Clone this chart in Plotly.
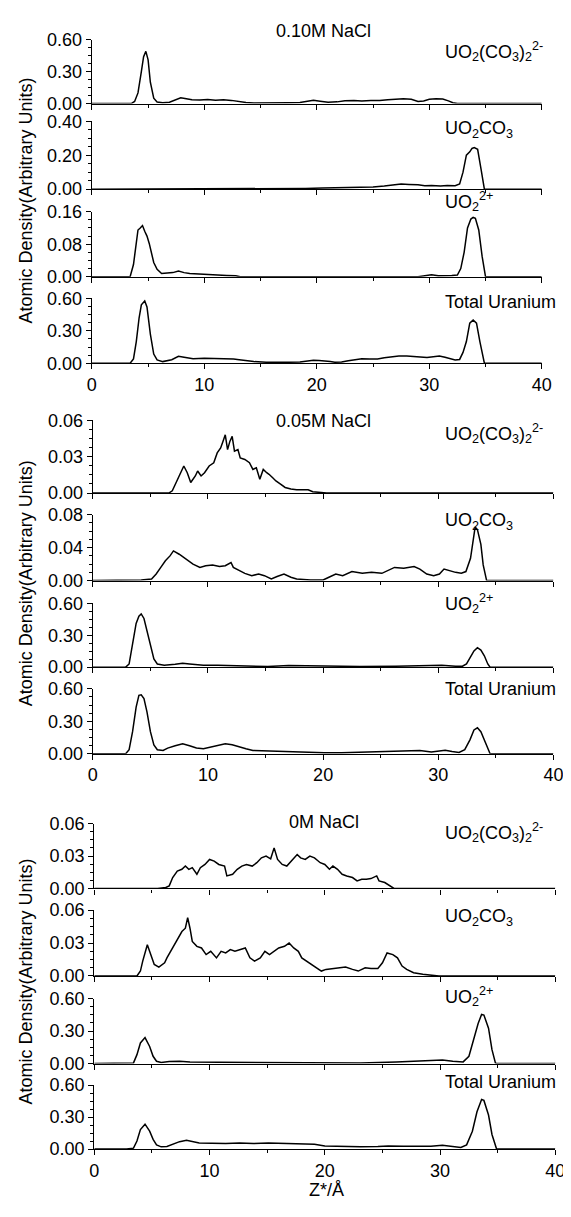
import plotly.graph_objects as go

# density profiles, Z*/A vs atomic density (arbitrary units)
# ---- 0.10M NaCl ----
z_dic_010 = [0, 3.5, 3.8, 4.1, 4.4, 4.6, 4.8, 5.0, 5.2, 5.5, 5.8, 6.3, 6.9, 7.4, 7.9, 8.4, 8.9, 9.6, 10.3, 11.0,
             11.7, 12.4, 13.0, 13.7, 14.4, 15.5, 16.5, 17.5, 18.5, 19.2, 19.7, 20.3, 21.0, 21.8, 22.5, 23.3, 24.0,
             24.8, 25.6, 26.3, 27.0, 27.7, 28.4, 29.0, 29.5, 30.0, 30.6, 31.2, 31.7, 32.1, 32.5, 40]
d_dic_010 = [0, 0, 0.02, 0.1, 0.3, 0.44, 0.49, 0.41, 0.2, 0.05, 0.015, 0.008, 0.012, 0.035, 0.055, 0.045, 0.035,
             0.033, 0.038, 0.032, 0.036, 0.03, 0.02, 0.01, 0.006, 0.005, 0.006, 0.008, 0.01, 0.022, 0.03, 0.022,
             0.012, 0.016, 0.026, 0.03, 0.024, 0.03, 0.028, 0.036, 0.044, 0.046, 0.04, 0.02, 0.025, 0.04, 0.046,
             0.042, 0.025, 0.008, 0, 0]
z_mono_010 = [0, 15.0, 17.0, 19.0, 20.5, 22.0, 23.0, 24.0, 25.0, 26.0, 26.8, 27.5, 28.2, 29.0, 29.6, 30.2, 31.0,
              31.6, 32.3, 32.7, 33.0, 33.3, 33.6, 33.8, 34.0, 34.3, 34.6, 34.9, 40]
d_mono_010 = [0, 0, 0.003, 0.004, 0.006, 0.008, 0.01, 0.014, 0.012, 0.018, 0.024, 0.03, 0.028, 0.026, 0.02, 0.022,
              0.018, 0.022, 0.02, 0.03, 0.1, 0.2, 0.22, 0.24, 0.245, 0.235, 0.12, 0, 0]
z_uo2_010 = [0, 3.4, 3.7, 3.9, 4.1, 4.3, 4.5, 4.7, 4.9, 5.1, 5.3, 5.5, 5.8, 6.2, 6.7, 7.2, 7.7, 8.2, 8.7, 9.3, 9.9,
             10.5, 11.2, 12.0, 12.8, 13.2, 29.0, 29.7, 30.2, 30.8, 31.4, 32.0, 32.5, 32.8, 33.1, 33.4, 33.7, 33.9,
             34.1, 34.4, 34.7, 35.0, 40]
d_uo2_010 = [0, 0, 0.03, 0.08, 0.115, 0.12, 0.126, 0.112, 0.1, 0.082, 0.06, 0.035, 0.018, 0.008, 0.009, 0.01,
             0.014, 0.01, 0.008, 0.007, 0.006, 0.004, 0.003, 0.003, 0.002, 0, 0, 0.003, 0.005, 0.002, 0.002, 0.003,
             0.004, 0.02, 0.06, 0.12, 0.142, 0.146, 0.144, 0.115, 0.05, 0, 0]
z_tot_010 = [0, 3.4, 3.7, 3.95, 4.2, 4.4, 4.7, 4.9, 5.2, 5.5, 5.8, 6.3, 7.1, 7.7, 8.2, 9.0, 10.0, 11.0, 12.0, 12.6,
             13.1, 13.8, 14.4, 15.5, 16.5, 17.5, 18.5, 19.2, 19.7, 20.2, 20.7, 21.2, 21.6, 22.2, 22.8, 23.4, 24.0,
             24.7, 25.4, 26.0, 26.6, 27.3, 28.0, 28.6, 29.2, 29.8, 30.4, 30.9, 31.4, 31.9, 32.3, 32.7, 33.0, 33.3,
             33.6, 33.9, 34.2, 34.5, 34.9, 40]
d_tot_010 = [0, 0, 0.04, 0.2, 0.42, 0.54, 0.576, 0.52, 0.27, 0.085, 0.03, 0.015, 0.033, 0.064, 0.055, 0.042, 0.045,
             0.044, 0.046, 0.04, 0.033, 0.02, 0.015, 0.01, 0.008, 0.009, 0.012, 0.022, 0.027, 0.026, 0.024, 0.015,
             0.009, 0.012, 0.022, 0.035, 0.042, 0.04, 0.04, 0.05, 0.058, 0.067, 0.066, 0.064, 0.058, 0.052, 0.06,
             0.067, 0.055, 0.04, 0.03, 0.035, 0.1, 0.2, 0.37, 0.4, 0.37, 0.2, 0, 0]

# ---- 0.05M NaCl ----
z_dic_005 = [0, 6.6, 6.9, 7.3, 7.6, 7.9, 8.2, 8.5, 8.9, 9.1, 9.4, 9.7, 10.1, 10.5, 10.8, 11.1, 11.3, 11.5, 11.7,
             11.9, 12.1, 12.3, 12.6, 12.8, 13.2, 13.6, 13.9, 14.2, 14.5, 14.8, 15.1, 15.3, 15.6, 15.9, 16.3, 16.7,
             17.2, 17.7, 18.3, 18.7, 19.1, 19.7, 20.3, 40]
d_dic_005 = [0, 0, 0.0019, 0.010, 0.0155, 0.0223, 0.0168, 0.0087, 0.0141, 0.0182, 0.0141, 0.0168, 0.0223, 0.025,
             0.0331, 0.0372, 0.0426, 0.048, 0.0358, 0.0426, 0.0467, 0.0345, 0.0358, 0.029, 0.0277, 0.025, 0.0195,
             0.0209, 0.0114, 0.0195, 0.0168, 0.0155, 0.0128, 0.010, 0.0073, 0.0046, 0.0033, 0.0027, 0.0027, 0.0027,
             0.0011, 0.0005, 0, 0]
z_mono_005 = [0, 4.2, 5.1, 5.5, 5.9, 6.3, 6.7, 7.0, 7.5, 7.9, 8.3, 8.7, 9.3, 9.8, 10.4, 11.0, 11.5, 12.0, 12.2,
              12.7, 13.2, 13.8, 14.4, 14.9, 15.5, 16.0, 16.6, 17.2, 17.7, 18.9, 20.0, 20.5, 21.1, 21.7, 22.5, 23.4,
              24.2, 25.1, 25.6, 26.2, 27.0, 27.9, 28.4, 29.0, 29.6, 30.1, 30.5, 31.0, 31.5, 32.0, 32.4, 32.8, 33.0,
              33.2, 33.4, 33.7, 33.9, 34.2, 40]
d_mono_005 = [0, 0.0008, 0.002, 0.008, 0.016, 0.024, 0.030, 0.036, 0.032, 0.028, 0.024, 0.020, 0.016, 0.018,
              0.019, 0.017, 0.018, 0.022, 0.016, 0.012, 0.0088, 0.006, 0.008, 0.006, 0.002, 0.005, 0.008, 0.004,
              0.002, 0.0008, 0.0008, 0.004, 0.008, 0.006, 0.011, 0.0088, 0.010, 0.0088, 0.012, 0.016, 0.015, 0.017,
              0.014, 0.008, 0.006, 0.008, 0.014, 0.012, 0.010, 0.009, 0.011, 0.027, 0.048, 0.065, 0.062, 0.044,
              0.019, 0, 0]
z_uo2_005 = [0, 2.85, 3.15, 3.45, 3.76, 4.0, 4.2, 4.44, 4.7, 5.0, 5.3, 5.6, 6.2, 7.15, 7.8, 8.4, 9.6, 10.85, 12.1,
             13.3, 15.2, 17.0, 18.6, 20.1, 23.2, 26.3, 28.4, 30.3, 31.5, 32.1, 32.45, 32.75, 33.1, 33.4, 33.7, 34.0,
             34.3, 34.5, 40]
d_uo2_005 = [0, 0, 0.03, 0.2, 0.41, 0.478, 0.5, 0.457, 0.35, 0.2, 0.076, 0.03, 0.018, 0.027, 0.037, 0.03, 0.018,
             0.018, 0.015, 0.009, 0.006, 0.015, 0.012, 0.006, 0.006, 0.009, 0.015, 0.018, 0.009, 0.009, 0.03, 0.09,
             0.152, 0.183, 0.16, 0.107, 0.03, 0, 0]
z_tot_005 = [0, 2.85, 3.15, 3.45, 3.76, 4.0, 4.2, 4.44, 4.7, 5.0, 5.3, 5.6, 6.1, 6.5, 7.15, 7.8, 8.4, 9.0, 9.6,
             10.2, 10.85, 11.5, 12.1, 12.7, 13.3, 13.9, 15.5, 17.0, 18.6, 20.1, 21.6, 23.2, 24.7, 26.3, 27.5, 28.4,
             29.4, 30.2, 30.6, 31.2, 31.8, 32.3, 32.75, 33.1, 33.4, 33.7, 34.0, 34.3, 34.5, 40]
d_tot_005 = [0, 0, 0.037, 0.204, 0.43, 0.54, 0.545, 0.51, 0.387, 0.204, 0.082, 0.037, 0.03, 0.052, 0.073, 0.091,
             0.073, 0.052, 0.046, 0.061, 0.076, 0.091, 0.082, 0.061, 0.046, 0.03, 0.024, 0.021, 0.018, 0.009, 0.009,
             0.015, 0.018, 0.021, 0.027, 0.03, 0.015, 0.027, 0.033, 0.021, 0.012, 0.037, 0.128, 0.22, 0.24, 0.204,
             0.128, 0.037, 0, 0]

# ---- 0M NaCl ----
z_dic_000 = [0, 5.5, 6.2, 6.5, 6.8, 7.2, 7.6, 7.9, 8.2, 8.5, 8.9, 9.2, 9.6, 10.0, 10.4, 10.8, 11.3, 11.5, 12.0,
             12.4, 12.8, 13.2, 13.7, 14.1, 14.5, 14.9, 15.3, 15.6, 15.9, 16.3, 16.7, 17.2, 17.6, 17.9, 18.3, 18.7,
             19.1, 19.6, 20.0, 20.4, 20.7, 21.1, 21.5, 21.9, 22.4, 22.8, 23.2, 23.6, 24.0, 24.5, 24.7, 25.2, 25.6,
             26.0, 40]
d_dic_000 = [0, 0, 0.0009, 0.0024, 0.0101, 0.0161, 0.0177, 0.0207, 0.0177, 0.0192, 0.0131, 0.0192, 0.0222, 0.0268,
             0.0253, 0.0222, 0.0207, 0.0116, 0.0131, 0.0177, 0.0207, 0.0222, 0.0207, 0.0238, 0.0283, 0.0299, 0.0274,
             0.0375, 0.0268, 0.0222, 0.0207, 0.0268, 0.0314, 0.0283, 0.0268, 0.0299, 0.0283, 0.0238, 0.0222, 0.0177,
             0.0207, 0.0177, 0.0131, 0.0116, 0.0101, 0.007, 0.0085, 0.0085, 0.0091, 0.0116, 0.007, 0.0055, 0.0024,
             0, 0]
z_mono_000 = [0, 3.7, 4.0, 4.2, 4.6, 4.9, 5.2, 5.6, 6.1, 6.3, 6.8, 7.2, 7.6, 7.9, 8.1, 8.3, 8.5, 8.9, 9.3, 9.7,
              10.1, 10.6, 11.0, 11.4, 11.8, 12.2, 12.7, 13.1, 13.5, 13.9, 14.4, 14.8, 15.2, 15.6, 16.0, 16.5, 16.9,
              17.3, 17.7, 18.0, 18.4, 18.8, 19.3, 19.7, 20.1, 20.7, 21.2, 21.8, 22.4, 22.9, 23.5, 24.0, 24.6, 25.0,
              25.4, 25.9, 26.3, 26.7, 27.1, 27.7, 28.5, 29.4, 29.9, 40]
d_mono_000 = [0, 0, 0.0045, 0.0135, 0.0285, 0.0195, 0.0105, 0.0081, 0.012, 0.0165, 0.0255, 0.033, 0.0405, 0.0435,
              0.0531, 0.0435, 0.0315, 0.027, 0.0255, 0.0195, 0.0225, 0.0165, 0.0225, 0.021, 0.024, 0.0225, 0.024,
              0.0255, 0.0165, 0.0135, 0.0165, 0.0225, 0.0195, 0.0225, 0.0255, 0.027, 0.03, 0.0255, 0.0225, 0.0165,
              0.0135, 0.0105, 0.0075, 0.0045, 0.006, 0.0069, 0.0075, 0.0081, 0.006, 0.0045, 0.0075, 0.0069, 0.0069,
              0.012, 0.021, 0.0195, 0.0165, 0.009, 0.006, 0.003, 0.0015, 0.0006, 0, 0]
z_uo2_000 = [0, 2.8, 3.4, 3.7, 4.0, 4.4, 4.8, 5.1, 5.4, 5.8, 6.5, 7.4, 8.3, 10.8, 13.8, 16.9, 20.0, 23.1, 26.2,
             29.2, 30.2, 31.1, 32.0, 32.5, 32.9, 33.3, 33.6, 33.8, 34.2, 34.5, 34.8, 34.9, 40]
d_uo2_000 = [0, 0, 0.006, 0.082, 0.19, 0.24, 0.158, 0.067, 0.021, 0.009, 0.018, 0.021, 0.015, 0.012, 0.012, 0.009,
             0.006, 0.006, 0.015, 0.024, 0.033, 0.021, 0.015, 0.067, 0.22, 0.37, 0.454, 0.448, 0.326, 0.128, 0.006,
             0, 0]
z_tot_000 = [0, 2.8, 3.4, 3.7, 4.0, 4.4, 4.8, 5.1, 5.4, 5.8, 6.3, 6.8, 7.4, 8.0, 8.5, 9.1, 10.2, 11.4, 12.6, 13.8,
             15.1, 16.3, 17.8, 19.1, 20.0, 21.5, 23.1, 24.6, 25.5, 26.8, 28.0, 29.2, 30.2, 31.1, 31.8, 32.3, 32.8,
             33.2, 33.6, 33.8, 34.2, 34.5, 34.8, 34.9, 40]
d_tot_000 = [0, 0, 0.009, 0.076, 0.183, 0.234, 0.168, 0.091, 0.04, 0.021, 0.024, 0.046, 0.07, 0.082, 0.07, 0.058,
             0.055, 0.052, 0.058, 0.052, 0.058, 0.055, 0.055, 0.046, 0.03, 0.024, 0.021, 0.024, 0.03, 0.027, 0.024,
             0.027, 0.037, 0.027, 0.015, 0.04, 0.168, 0.35, 0.466, 0.457, 0.32, 0.137, 0.015, 0, 0]

conc_labels = ["0.10M NaCl", "0.05M NaCl", "0M NaCl"]
species_labels = ["UO<sub>2</sub>(CO<sub>3</sub>)<sub>2</sub><sup>2-</sup>",
                  "UO<sub>2</sub>CO<sub>3</sub>",
                  "UO<sub>2</sub><sup>2+</sup>",
                  "Total Uranium"]
y_tops = [[0.60, 0.40, 0.16, 0.60],
          [0.06, 0.08, 0.60, 0.60],
          [0.06, 0.06, 0.60, 0.60]]
profiles = [[(z_dic_010, d_dic_010), (z_mono_010, d_mono_010), (z_uo2_010, d_uo2_010), (z_tot_010, d_tot_010)],
            [(z_dic_005, d_dic_005), (z_mono_005, d_mono_005), (z_uo2_005, d_uo2_005), (z_tot_005, d_tot_005)],
            [(z_dic_000, d_dic_000), (z_mono_000, d_mono_000), (z_uo2_000, d_uo2_000), (z_tot_000, d_tot_000)]]

# page geometry in pixels; the page body puts the figure 8px in from the corner,
# so positions are given in window pixels and shifted back by OFF
W, H = 571, 1217
OFF = 8
FONT = "Liberation Sans, Arial, sans-serif"
group_x = [(89, 551), (90, 563), (91.5, 565)]
panel_y = [[(30, 95), (113, 182), (205, 271), (293, 359)],
           [(417, 491), (513, 580), (603, 668), (690, 756)],
           [(827, 893), (915, 982), (1005, 1071), (1093, 1158)]]
title_y = [21, 418, 825]
species_y = [[42, 121, 195, 297], [430, 520, 603, 690], [836, 923, 1003, 1090]]
ytitle_y = [194, 583, 988]


def px(x):
    return min(1.0, max(0.0, (x - OFF) / W))


def py(y):
    return min(1.0, max(0.0, 1 - (y - OFF) / H))


fig = go.Figure()
layout = {}
annotations = []
n = 0
for g in range(3):
    for p in range(4):
        n += 1
        z, d = profiles[g][p]
        fig.add_trace(go.Scatter(x=z, y=d, mode="lines", xaxis="x%d" % n, yaxis="y%d" % n,
                                 line=dict(color="black", width=1.5), showlegend=False,
                                 hoverinfo="skip"))
        top = y_tops[g][p]
        x0, x1 = group_x[g]
        ytop, ybot = panel_y[g][p]
        xname = "xaxis" if n == 1 else "xaxis%d" % n
        yname = "yaxis" if n == 1 else "yaxis%d" % n
        layout[xname] = dict(domain=[px(x0), px(x1)], anchor="y%d" % n, range=[0, 40],
                             showline=True, linecolor="black", linewidth=1.3, mirror=False,
                             ticks="outside", ticklen=5, tickwidth=1.3, tickcolor="black",
                             tickmode="linear", tick0=0, dtick=10, ticklabeloverflow="allow",
                             minor=dict(ticks="outside", ticklen=3, tickwidth=1.1, tickcolor="black", dtick=5),
                             showticklabels=(p == 3), tickfont=dict(family=FONT, size=18, color="black"),
                             showgrid=False, zeroline=False, fixedrange=True)
        layout[yname] = dict(domain=[py(ybot), py(ytop)], anchor="x%d" % n, range=[0, top],
                             showline=True, linecolor="black", linewidth=1.3,
                             ticks="outside", ticklen=5, tickwidth=1.3, tickcolor="black",
                             tickmode="array", tickvals=[0, top / 2, top], tickformat=".2f",
                             minor=dict(ticks="outside", ticklen=3, tickwidth=1.1, tickcolor="black",
                                        tick0=0, dtick=top / 8),
                             tickfont=dict(family=FONT, size=18, color="black"),
                             showgrid=False, zeroline=False, fixedrange=True)
        annotations.append(dict(text=species_labels[p], x=px(450), y=py(species_y[g][p]),
                                xref="paper", yref="paper", xanchor="left", yanchor="middle",
                                showarrow=False, font=dict(family=FONT, size=18, color="black")))
    annotations.append(dict(text=conc_labels[g], x=px(327), y=py(title_y[g]), xref="paper", yref="paper",
                            xanchor="center", yanchor="middle", showarrow=False,
                            font=dict(family=FONT, size=18, color="black")))
    annotations.append(dict(text="Atomic Density(Arbitrary Units)", x=px(21), y=py(ytitle_y[g]),
                            xref="paper", yref="paper", xanchor="center", yanchor="middle",
                            textangle=-90, showarrow=False, font=dict(family=FONT, size=18, color="black")))

annotations.append(dict(text="Z*/Å", x=px(330), y=py(1200), xref="paper", yref="paper",
                        xanchor="center", yanchor="middle", showarrow=False,
                        font=dict(family=FONT, size=18, color="black")))

fig.update_layout(width=W, height=H, margin=dict(l=0, r=0, t=0, b=0),
                  paper_bgcolor="white", plot_bgcolor="white",
                  annotations=annotations, **layout)

fig.write_html("out.html")
